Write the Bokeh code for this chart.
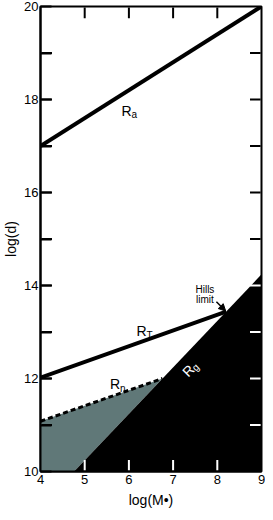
import numpy as np
from bokeh.plotting import figure
from bokeh.models import Range1d, FixedTicker, Arrow, NormalHead
from bokeh.core.properties import value
from bokeh.embed import file_html
from bokeh.resources import INLINE

# ---- data ----
x_ticks = [4, 5, 6, 7, 8, 9]
x_inner_ticks = [5.0, 6.0, 7.0, 8.0]
y_major_ticks = [10, 12, 14, 16, 18, 20]
y_minor_ticks = [11, 13, 15, 17, 19]
y_inner_ticks = [11.0, 12.0, 13.0, 14.0, 15.0, 16.0, 17.0, 18.0, 19.0]
right_ticks_dark = [15.0, 16.0, 17.0, 18.0, 19.0]
right_ticks_light = [11.0, 12.0, 13.0, 14.0]

ra_x = [4.0, 9.0]
ra_y = [17.0, 20.0]
rt_x = [4.0, 8.2]
rt_y = [12.02, 13.44]
rg_x = [4.76, 9.0]
rg_y = [10.0, 14.24]
rn_x = [4.0, 6.76]
rn_y = [11.08, 12.0]
y_floor = 10.0
x_lo, x_hi = 4.0, 9.0
y_lo, y_hi = 10.0, 20.0

FONT = "Liberation Sans"
INSET_X = 0.02
INSET_Y = 0.02
TICK_DX = 0.24
TICK_DY = 0.23

p = figure(width=265, height=510, x_range=Range1d(x_lo, x_hi), y_range=Range1d(y_lo, y_hi),
           output_backend="svg", toolbar_location=None,
           min_border_top=6, min_border_right=4, min_border_left=0, min_border_bottom=0)
p.xgrid.visible = False
p.ygrid.visible = False
p.outline_line_color = "black"
p.outline_line_width = 2
p.background_fill_color = "white"
p.border_fill_color = "white"

# regions
p.patch([rn_x[0], rn_x[0], rn_x[1], rg_x[0]], [y_floor, rn_y[0], rn_y[1], rg_y[0]],
        fill_color="#607878", line_color=None)
p.patch([rg_x[0], rg_x[1], rg_x[1]], [rg_y[0], rg_y[1], y_floor],
        fill_color="black", line_color=None)

# lines
p.line(ra_x, ra_y, line_width=4, line_color="black")
p.line(rt_x, rt_y, line_width=4, line_color="black")
p.line(rn_x, rn_y, line_width=3, line_color="black", line_dash="5 3")

# inner ticks drawn as short lines
def tick_lines(xs0, ys0, xs1, ys1, color):
    p.multi_line(xs=[[a, b] for a, b in zip(xs0, xs1)],
                 ys=[[a, b] for a, b in zip(ys0, ys1)],
                 line_width=2, line_color=color)

tick_lines(x_inner_ticks, [y_hi - INSET_Y] * len(x_inner_ticks),
           x_inner_ticks, [y_hi - INSET_Y - TICK_DY] * len(x_inner_ticks), "black")
tick_lines(x_inner_ticks, [y_lo + INSET_Y] * len(x_inner_ticks),
           x_inner_ticks, [y_lo + INSET_Y + TICK_DY] * len(x_inner_ticks), "white")
tick_lines([x_lo + INSET_X] * len(y_inner_ticks), y_inner_ticks,
           [x_lo + INSET_X + TICK_DX] * len(y_inner_ticks), y_inner_ticks, "black")
tick_lines([x_hi - INSET_X] * len(right_ticks_dark), right_ticks_dark,
           [x_hi - INSET_X - TICK_DX] * len(right_ticks_dark), right_ticks_dark, "black")
tick_lines([x_hi - INSET_X] * len(right_ticks_light), right_ticks_light,
           [x_hi - INSET_X - TICK_DX] * len(right_ticks_light), right_ticks_light, "white")

# axes
xa = p.xaxis[0]
xa.ticker = FixedTicker(ticks=x_ticks)
xa.major_tick_in = 0
xa.major_tick_out = 0
xa.minor_tick_in = 0
xa.minor_tick_out = 0
xa.axis_line_width = 2
xa.major_label_text_font = FONT
xa.major_label_text_font_size = "13px"
xa.major_label_text_color = "black"
xa.major_label_standoff = 3
xa.axis_label = "log(M\u2022)"
xa.axis_label_text_font = FONT
xa.axis_label_text_font_size = "14px"
xa.axis_label_text_font_style = "normal"
xa.axis_label_text_color = "black"
xa.axis_label_standoff = 5

ya = p.yaxis[0]
ya.ticker = FixedTicker(ticks=y_major_ticks, minor_ticks=y_minor_ticks)
ya.major_tick_in = 11
ya.major_tick_out = 0
ya.minor_tick_in = 11
ya.minor_tick_out = 0
ya.major_tick_line_width = 2
ya.minor_tick_line_width = 2
ya.major_tick_line_color = "black"
ya.minor_tick_line_color = "black"
ya.axis_line_width = 2
ya.major_label_text_font = FONT
ya.major_label_text_font_size = "13px"
ya.major_label_text_color = "black"
ya.major_label_standoff = 2
ya.axis_label = "log(d)"
ya.axis_label_text_font = FONT
ya.axis_label_text_font_size = "14px"
ya.axis_label_text_font_style = "normal"
ya.axis_label_text_color = "black"
ya.axis_label_standoff = 2

# labels
def txt(x, y, s, size, color="black", align="left", angle=0.0, dx=0, dy=0):
    p.text(x=[x], y=[y], text=[s], text_font=value(FONT), text_font_size=size,
           text_color=color, text_align=align, text_baseline="alphabetic", angle=angle,
           x_offset=dx, y_offset=dy)

txt(5.83, 17.75, "R", "14px")
txt(5.83, 17.75, "a", "10px", dx=10, dy=3)
txt(6.17, 13.02, "R", "14px")
txt(6.17, 13.02, "T", "10px", dx=10, dy=4)
txt(5.57, 11.88, "R", "14px")
txt(5.57, 11.88, "n", "10px", dx=10, dy=4)
txt(7.26, 12.09, "R", "14px", color="white", angle=np.pi / 4)
txt(7.26, 12.09, "g", "10px", color="white", angle=np.pi / 4, dx=9, dy=-5)
txt(7.72, 13.91, "Hills", "10px", align="center")
txt(7.72, 13.69, "limit", "10px", align="center")

p.add_layout(Arrow(end=NormalHead(size=7, fill_color="black", line_color="black"),
                   x_start=rt_x[1] - 0.22, y_start=rt_y[1] + 0.21,
                   x_end=rt_x[1] - 0.01, y_end=rt_y[1] + 0.01,
                   line_width=1.5, line_color="black"))

open("out.html", "w").write(file_html(p, INLINE))
